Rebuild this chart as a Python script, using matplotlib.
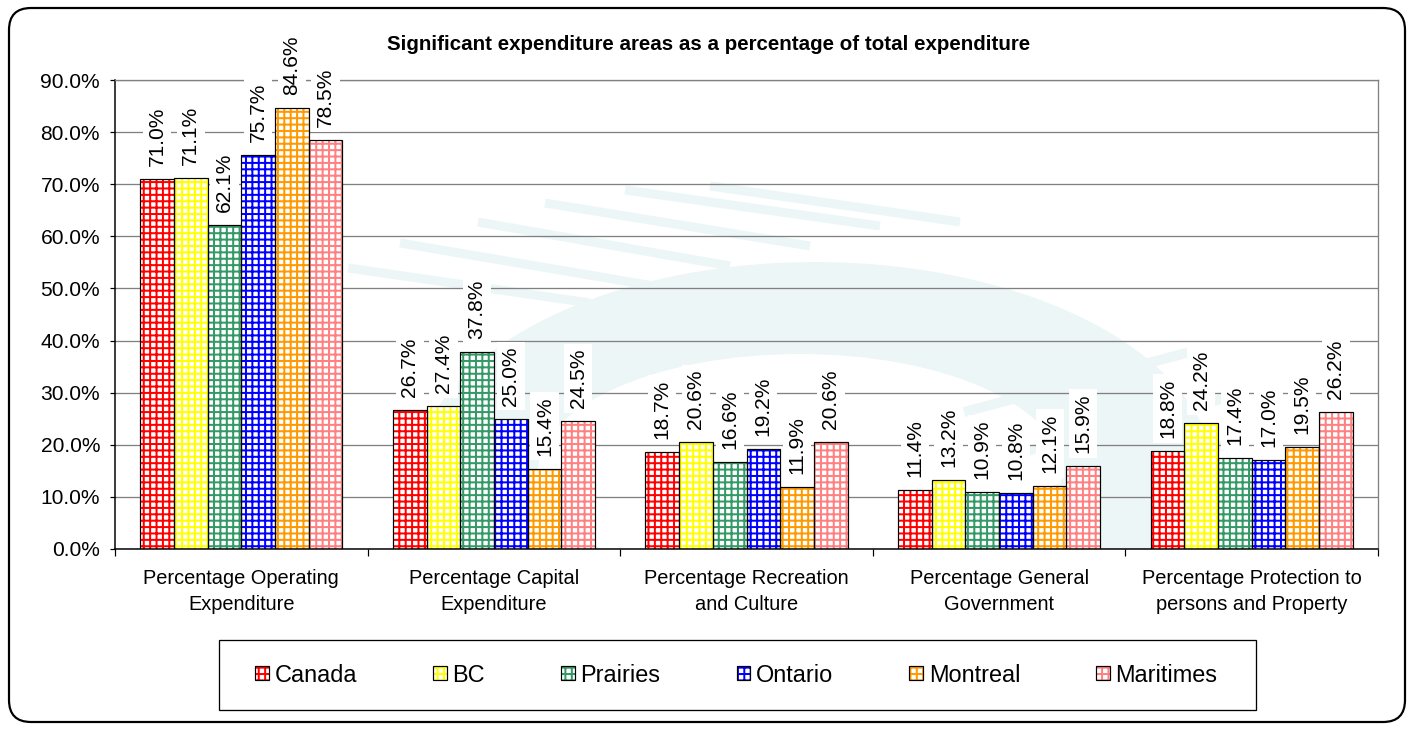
import numpy as np
import matplotlib
matplotlib.use("Agg")
import matplotlib.pyplot as plt
from matplotlib.patches import Patch, FancyBboxPatch, Ellipse, Rectangle
from matplotlib.transforms import IdentityTransform
from matplotlib.ticker import FuncFormatter, FixedLocator
from matplotlib.lines import Line2D

DPI = 115
W, H = 1413, 730
plt.rcParams['font.family'] = ['Liberation Sans', 'DejaVu Sans']
plt.rcParams['hatch.linewidth'] = 1.25

# ---------------- data ----------------
categories = ["Percentage Operating\nExpenditure",
              "Percentage Capital\nExpenditure",
              "Percentage Recreation\nand Culture",
              "Percentage General\nGovernment",
              "Percentage Protection to\npersons and Property"]
regions = ["Canada", "BC", "Prairies", "Ontario", "Montreal", "Maritimes"]
canada = [71.0, 26.7, 18.7, 11.4, 18.8]
bc = [71.1, 27.4, 20.6, 13.2, 24.2]
prairies = [62.1, 37.8, 16.6, 10.9, 17.4]
ontario = [75.7, 25.0, 19.2, 10.8, 17.0]
montreal = [84.6, 15.4, 11.9, 12.1, 19.5]
maritimes = [78.5, 24.5, 20.6, 15.9, 26.2]
colors = ["#FF0000", "#FFFF00", "#339966", "#0000FF", "#FF9900", "#FF8080"]
yticks = [0, 10, 20, 30, 40, 50, 60, 70, 80, 90]
title = "Significant expenditure areas as a percentage of total expenditure"

series = [canada, bc, prairies, ontario, montreal, maritimes]

fig = plt.figure(figsize=(W / DPI, H / DPI), dpi=DPI)
fig.patch.set_facecolor("white")


def px(v):
    return v * 72.0 / DPI


ax = fig.add_axes([115 / W, (H - 549) / H, (1378 - 115) / W, (549 - 80) / H])

# ---- faint decorative watermark (pixel coordinates, top-left origin) ----
wm = "#edf6f7"
ident = IdentityTransform()


def wm_ellipse(cx, cy, a, b, color):
    e = Ellipse((cx, H - cy), 2 * a, 2 * b, facecolor=color, edgecolor="none",
                transform=ident, zorder=0.1)
    ax.add_patch(e)


def wm_band(x0, y0, x1, y1, lw, color=wm):
    ax.add_line(Line2D([x0, x1], [H - y0, H - y1], color=color, lw=px(lw),
                       transform=ident, zorder=0.12, solid_capstyle="butt"))


wm_ellipse(815, 480, 400, 218, wm)
wm_ellipse(800, 472, 262, 118, "white")
for b in [(348, 268, 590, 303), (400, 243, 660, 287), (478, 222, 730, 266),
          (545, 203, 810, 246), (625, 190, 880, 226), (710, 186, 960, 222)]:
    wm_band(*b, lw=9)
for b in [(964, 412, 1190, 352), (1012, 455, 1225, 398), (1030, 497, 1225, 445)]:
    wm_band(*b, lw=10)

x = np.arange(len(categories))
w = 0.8 / len(regions)
for j, (name, vals, c) in enumerate(zip(regions, series, colors)):
    pos = x + (j - 2.5) * w
    ax.bar(pos, vals, w, facecolor="white", edgecolor=c, hatch="+++", linewidth=0, zorder=2)
    ax.bar(pos, vals, w, facecolor="none", edgecolor="black", linewidth=px(1.2), zorder=3)
    for p, v in zip(pos, vals):
        ax.annotate(f"{v:.1f}%", (p, v), xytext=(0, px(13)), textcoords="offset points",
                    rotation=90, ha="center", va="bottom", fontsize=px(21),
                    bbox=dict(boxstyle="square,pad=0.22", fc="white", ec="none"),
                    zorder=4, annotation_clip=False)

ax.set_xlim(-0.5, len(categories) - 0.5)
ax.set_ylim(0, 90)
ax.set_yticks(yticks)
ax.yaxis.set_major_formatter(FuncFormatter(lambda v, p: f"{v:.1f}%"))
ax.yaxis.grid(True, color="#808080", linewidth=px(1.3))
ax.set_axisbelow(True)

ax.set_xticks(x)
ax.set_xticklabels(categories, fontsize=px(20), linespacing=1.45)
ax.tick_params(axis="x", which="major", length=0, pad=px(20))
ax.xaxis.set_minor_locator(FixedLocator(np.arange(len(categories) + 1) - 0.5))
ax.tick_params(axis="x", which="minor", length=px(7), width=px(1.2), color="black")
ax.tick_params(axis="y", which="major", length=px(5), width=px(1.2), labelsize=px(21), pad=px(10))

for s in ["left", "bottom"]:
    ax.spines[s].set_color("black")
    ax.spines[s].set_linewidth(px(1.5))
for s in ["top", "right"]:
    ax.spines[s].set_color("#808080")
    ax.spines[s].set_linewidth(px(1.3))

fig.text(709 / W, 1 - 44 / H, title, ha="center", va="center", fontsize=px(20.5), fontweight="bold")

# legend
handles = [(Patch(facecolor="white", edgecolor=c, hatch="+++", linewidth=0),
            Patch(facecolor="none", edgecolor="black", linewidth=px(1.2))) for c in colors]
leg_fs = px(23.5)
fig.legend(handles, regions, ncol=len(regions), loc="center", mode="expand",
           bbox_to_anchor=(246 / W, (H - 710) / H, (1227 - 246) / W, 70 / H),
           frameon=False, fontsize=leg_fs, handlelength=0.57, handleheight=0.57,
           handletextpad=0.25, borderpad=0.4, borderaxespad=0)
fig.add_artist(Rectangle((219, H - 710), 1256 - 219, 70, transform=ident,
                         facecolor="none", edgecolor="black", linewidth=px(1.3)))

# outer rounded border
fig.add_artist(FancyBboxPatch((9, H - 722), 1396, 714, boxstyle="round,pad=0,rounding_size=22",
                              transform=ident, facecolor="none",
                              edgecolor="black", linewidth=px(2.2)))

fig.savefig("out.png", dpi=DPI, facecolor="white")
